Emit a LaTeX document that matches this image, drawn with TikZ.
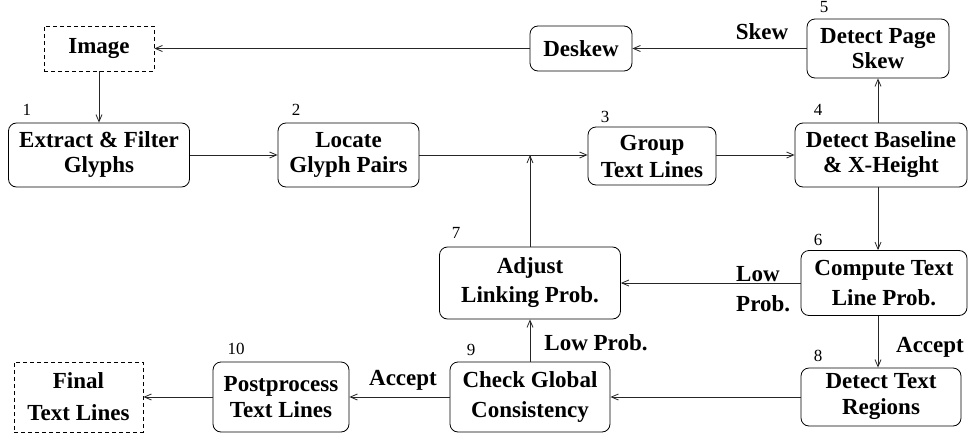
\documentclass[tikz,border=0pt]{standalone}
\usepackage{fontspec}
\setmainfont{Liberation Serif}
\usetikzlibrary{arrows.meta, positioning}
\tikzset{
    stage/.style={draw, rounded corners=8pt, align=center, inner sep=0pt,
        line width=0.8pt, font=\bfseries\fontsize{23}{25}\selectfont},
    ioBox/.style={stage, sharp corners, dash pattern=on 4pt off 3pt},
    stepNum/.style={inner sep=0pt, font=\fontsize{17}{17}\selectfont},
    flowLabel/.style={inner sep=0pt, font=\bfseries\fontsize{23}{25}\selectfont},
    flow/.style={draw=black!85, line width=0.8pt, -{Straight Barb[length=7pt, width=6pt]}},
}

\begin{document}
\begin{tikzpicture}[x=1pt, y=-1pt]
    \useasboundingbox (0,0) rectangle (969,439);

    % Top row
    \node[ioBox, minimum width=110pt, minimum height=45pt] (image) at (99,48.5) {Image};
    \node[stage, minimum width=102pt, minimum height=45pt] (deskew) at (581,48.5) {Deskew};
    \node[stage, minimum width=142pt, minimum height=59pt] (pageSkew) at (878,48.5) {Detect Page\\Skew};

    % Second row
    \node[stage, minimum width=181pt, minimum height=64pt] (extract) at (99,155) {Extract \& Filter\\Glyphs};
    \node[stage, minimum width=141pt, minimum height=64pt] (locate) at (348.5,155) {Locate\\Glyph Pairs};
    \node[stage, minimum width=128pt, minimum height=58pt] (group) at (652,156) {Group\\[2pt]Text Lines};
    \node[stage, minimum width=172pt, minimum height=64pt] (baseline) at (881,155) {Detect Baseline\\\& X-Height};

    % Third row
    \node[stage, minimum width=181pt, minimum height=72pt] (adjust) at (530,283) {Adjust\\[4pt]Linking Prob.};
    \node[stage, minimum width=166pt, minimum height=65pt] (compute) at (884,283) {Compute Text\\[5pt]Line Prob.};

    % Bottom row
    \node[ioBox, minimum width=129pt, minimum height=70pt] (final) at (78.5,397) {Final\\[7pt]Text Lines};
    \node[stage, minimum width=136pt, minimum height=70pt] (post) at (281,397) {Postprocess\\[1pt]Text Lines};
    \node[stage, minimum width=160pt, minimum height=70pt] (check) at (530,397) {Check Global\\[5pt]Consistency};
    \node[stage, minimum width=160pt, minimum height=58pt] (regions) at (881,397) {Detect Text\\[1pt]Regions};

    % Step numbers
    \node[stepNum] (num1) at (27,110) {1};
    \node[stepNum] (num2) at (296,110) {2};
    \node[stepNum] (num3) at (605,117) {3};
    \node[stepNum] (num4) at (818,110) {4};
    \node[stepNum] (num5) at (824,7) {5};
    \node[stepNum] (num6) at (818,240) {6};
    \node[stepNum] (num7) at (456,233) {7};
    \node[stepNum] (num8) at (818,356) {8};
    \node[stepNum] (num9) at (471,350) {9};
    \node[stepNum] (num10) at (236,349) {10};

    % Connectors
    \coordinate (join) at (adjust.north |- locate.east);
    \draw[flow] (image) -- (extract);
    \draw[flow] (extract) -- (locate);
    \draw[flow] (locate.east) -- (group.west |- locate.east);
    \draw[flow] (group.east |- baseline.west) -- (baseline);
    \draw[flow] (pageSkew.south |- baseline.north) -- (pageSkew.south);
    \draw[flow] (pageSkew) -- (deskew);
    \draw[flow] (deskew) -- (image);
    \draw[flow] (pageSkew.south |- baseline.south) -- (pageSkew.south |- compute.north);
    \draw[flow] (compute) -- (adjust);
    \draw[flow] (adjust) -- (join);
    \draw[flow] (pageSkew.south |- compute.south) -- (pageSkew.south |- regions.north);
    \draw[flow] (regions) -- (check);
    \draw[flow] (check) -- (adjust);
    \draw[flow] (check) -- (post);
    \draw[flow] (post) -- (final);

    % Branch labels
    \node[flowLabel] (skewLbl) at (762,32) {Skew};
    \node[flowLabel, align=left, anchor=west] (lowLbl) at (736,289) {Low\\[5pt]Prob.};
    \node[flowLabel] (lowProbLbl) at (596,343) {Low Prob.};
    \node[flowLabel] (acceptRight) at (930,347) {Accept};
    \node[flowLabel] (acceptLeft) at (403,380) {Accept};

\end{tikzpicture}
\end{document}
